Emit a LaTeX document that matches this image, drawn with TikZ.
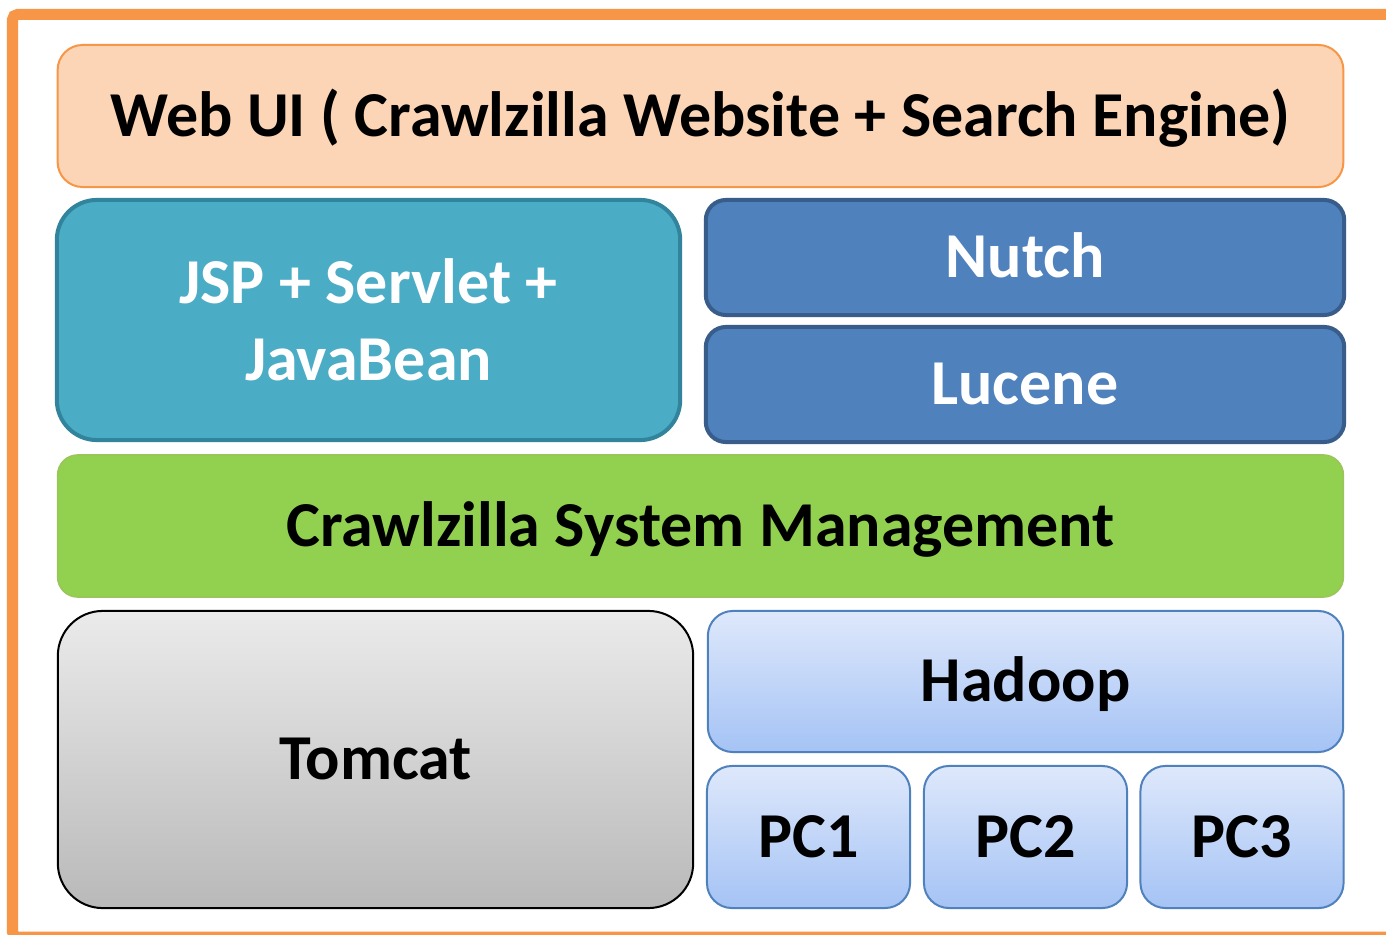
\documentclass[tikz,border=0pt]{standalone}
\usepackage{fontspec}
\setmainfont{Carlito}
\usepackage{tikz}
\usetikzlibrary{positioning}

\definecolor{frameorange}{HTML}{F79646}
\definecolor{webfill}{HTML}{FBD5B5}
\definecolor{jspfill}{HTML}{4BACC6}
\definecolor{jspline}{HTML}{31849B}
\definecolor{luceneblue}{HTML}{4F81BD}
\definecolor{lucenedark}{HTML}{385D8A}
\definecolor{mgmtgreen}{HTML}{92D050}
\definecolor{mgmtline}{HTML}{9BC45A}
\definecolor{hadooptop}{HTML}{DEE8FB}
\definecolor{hadoopbot}{HTML}{A5C3F5}
\definecolor{hadoopline}{HTML}{4F81BD}

\tikzset{
  layer/.style={rounded corners=0.25cm, font=\fontsize{18.2}{21.8}\selectfont\bfseries, align=center, inner sep=0pt},
  oneline/.style={text height=14.9pt, text depth=3.3pt},
  webbox/.style={layer, oneline, fill=webfill, draw=frameorange, line width=0.02cm},
  jspbox/.style={layer, fill=jspfill, draw=jspline, line width=0.04cm, rounded corners=0.4cm, text=white},
  libbox/.style={layer, oneline, fill=luceneblue, draw=lucenedark, line width=0.04cm, rounded corners=0.2cm, text=white},
  mgmtbox/.style={layer, oneline, fill=mgmtgreen, draw=mgmtline, line width=0.015cm, rounded corners=0.2cm},
  tomcatbox/.style={layer, oneline, top color=gray!16, bottom color=gray!55, draw=black, line width=0.02cm, rounded corners=0.45cm},
  hadoopbox/.style={layer, oneline, top color=hadooptop, bottom color=hadoopbot, draw=hadoopline, line width=0.02cm},
}

\begin{document}
\begin{tikzpicture}[x=0.01cm, y=-0.01cm]
    \clip (0,0) rectangle (1386,934);
    \fill[white] (0,0) rectangle (1386,934);
    \draw[frameorange, line width=0.11cm, rounded corners=0.05cm] (12.5,14.5) rectangle (1420,937);

    \node[webbox, minimum width=12.85cm, minimum height=1.42cm] (webui) at (700.5,116) {Web UI ( Crawlzilla Website + Search Engine)};

    \node[jspbox, minimum width=6.23cm, minimum height=2.40cm] (jsp) at (368.5,320) {JSP + Servlet +\\JavaBean};
    \node[libbox, minimum width=6.38cm, minimum height=1.15cm] (nutch) at (1025,257.5) {Nutch};
    \node[libbox, minimum width=6.38cm, minimum height=1.15cm] (lucene) at (1025,384.5) {Lucene};

    \node[mgmtbox, minimum width=12.85cm, minimum height=1.42cm] (mgmt) at (700.5,526) {Crawlzilla System Management};

    \node[tomcatbox, minimum width=6.35cm, minimum height=2.97cm] (tomcat) at (375.5,759.5) {Tomcat};
    \node[hadoopbox, minimum width=6.35cm, minimum height=1.41cm] (hadoop) at (1025.5,681.5) {Hadoop};
    \node[hadoopbox, minimum width=2.03cm, minimum height=1.42cm] (pc1) at (808.5,837) {PC1};
    \node[hadoopbox, minimum width=2.03cm, minimum height=1.42cm] (pc2) at (1025.5,837) {PC2};
    \node[hadoopbox, minimum width=2.03cm, minimum height=1.42cm] (pc3) at (1242,837) {PC3};
\end{tikzpicture}
\end{document}
